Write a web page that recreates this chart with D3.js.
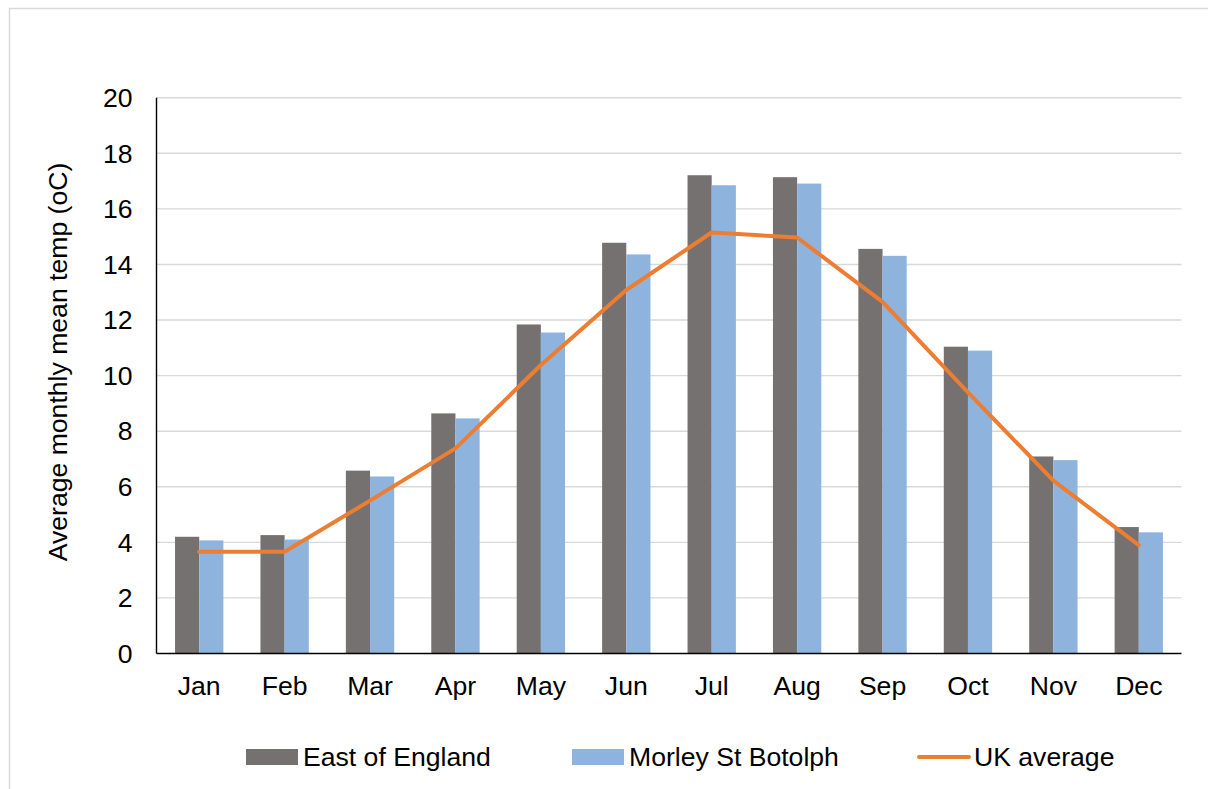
<!DOCTYPE html>
<html>
<head>
<meta charset="utf-8">
<script src="https://cdn.jsdelivr.net/npm/d3@7"></script>
<style>
  html, body { margin: 0; padding: 0; background: #fff; }
  svg { display: block; font-family: Arial, "Liberation Sans", sans-serif; }
</style>
</head>
<body>
<svg id="chart" width="1208" height="789"></svg>
<script>
const months = ["Jan","Feb","Mar","Apr","May","Jun","Jul","Aug","Sep","Oct","Nov","Dec"];
const eastOfEngland = [4.2, 4.26, 6.58, 8.64, 11.84, 14.78, 17.21, 17.14, 14.56, 11.04, 7.09, 4.55];
const morleyStBotolph = [4.07, 4.1, 6.37, 8.46, 11.55, 14.36, 16.85, 16.91, 14.31, 10.9, 6.96, 4.36];
const ukAverage = [3.66, 3.66, 5.5, 7.38, 10.38, 13.08, 15.15, 14.97, 12.65, 9.4, 6.22, 3.9];
const yTicks = [0, 2, 4, 6, 8, 10, 12, 14, 16, 18, 20];
const seriesNames = ["East of England", "Morley St Botolph", "UK average"];
const yTitle = "Average monthly mean temp (oC)";

const colors = { east: "#767171", morley: "#8EB4DE", uk: "#ED7D31" };
const svg = d3.select("#chart");
const W = 1208, H = 789;
const plot = { left: 156.5, right: 1181.5, top: 97.7, bottom: 653.5 };
const fs = 26.6;

// outer chart border
svg.append("rect").attr("x", 9.5).attr("y", 8.5).attr("width", W + 10).attr("height", H + 10)
  .attr("fill", "none").attr("stroke", "#d9d9d9").attr("stroke-width", 1.5);

const x = d3.scaleBand().domain(months).range([plot.left, plot.right]).paddingInner(0).paddingOuter(0);
const y = d3.scaleLinear().domain([0, 20]).range([plot.bottom, plot.top]);
const bw = x.bandwidth() * 0.283;

// gridlines
svg.append("g").selectAll("line").data(yTicks.filter(d => d > 0)).join("line")
  .attr("x1", plot.left).attr("x2", plot.right)
  .attr("y1", d => y(d)).attr("y2", d => y(d))
  .attr("stroke", "#d9d9d9").attr("stroke-width", 1.4);

// bars
const cx = m => x(m) + x.bandwidth() / 2;
svg.append("g").selectAll("rect").data(months).join("rect")
  .attr("x", (m) => cx(m) - bw).attr("width", bw)
  .attr("y", (m, i) => y(eastOfEngland[i])).attr("height", (m, i) => y(0) - y(eastOfEngland[i]))
  .attr("fill", colors.east);
svg.append("g").selectAll("rect").data(months).join("rect")
  .attr("x", (m) => cx(m)).attr("width", bw)
  .attr("y", (m, i) => y(morleyStBotolph[i])).attr("height", (m, i) => y(0) - y(morleyStBotolph[i]))
  .attr("fill", colors.morley);

// axes lines
svg.append("line").attr("x1", plot.left).attr("x2", plot.left).attr("y1", plot.top).attr("y2", plot.bottom)
  .attr("stroke", "#000").attr("stroke-width", 1.4);
svg.append("line").attr("x1", plot.left).attr("x2", plot.right).attr("y1", plot.bottom).attr("y2", plot.bottom)
  .attr("stroke", "#000").attr("stroke-width", 1.4);

// line
const line = d3.line().x((d, i) => cx(months[i])).y(d => y(d));
svg.append("path").datum(ukAverage).attr("d", line)
  .attr("fill", "none").attr("stroke", colors.uk).attr("stroke-width", 4)
  .attr("stroke-linejoin", "round").attr("stroke-linecap", "round");

// y tick labels
svg.append("g").selectAll("text").data(yTicks).join("text")
  .attr("x", 132.5).attr("y", d => y(d) + 9.3)
  .attr("text-anchor", "end").attr("font-size", fs).attr("fill", "#000")
  .text(d => d);

// x tick labels
svg.append("g").selectAll("text").data(months).join("text")
  .attr("x", m => cx(m)).attr("y", 694.5)
  .attr("text-anchor", "middle").attr("font-size", fs).attr("fill", "#000")
  .text(m => m);

// y title
svg.append("text").attr("transform", "translate(67,362) rotate(-90)")
  .attr("text-anchor", "middle").attr("font-size", fs).attr("fill", "#000")
  .text(yTitle);

// legend
const lg = svg.append("g");
lg.append("rect").attr("x", 246).attr("y", 749).attr("width", 52).attr("height", 16).attr("fill", colors.east);
lg.append("text").attr("x", 303).attr("y", 766).attr("font-size", fs).text(seriesNames[0]);
lg.append("rect").attr("x", 572).attr("y", 749).attr("width", 52).attr("height", 16).attr("fill", colors.morley);
lg.append("text").attr("x", 629).attr("y", 766).attr("font-size", fs).text(seriesNames[1]);
lg.append("line").attr("x1", 919).attr("x2", 969).attr("y1", 757).attr("y2", 757)
  .attr("stroke", colors.uk).attr("stroke-width", 4).attr("stroke-linecap", "round");
lg.append("text").attr("x", 974).attr("y", 766).attr("font-size", fs).text(seriesNames[2]);
</script>
</body>
</html>
